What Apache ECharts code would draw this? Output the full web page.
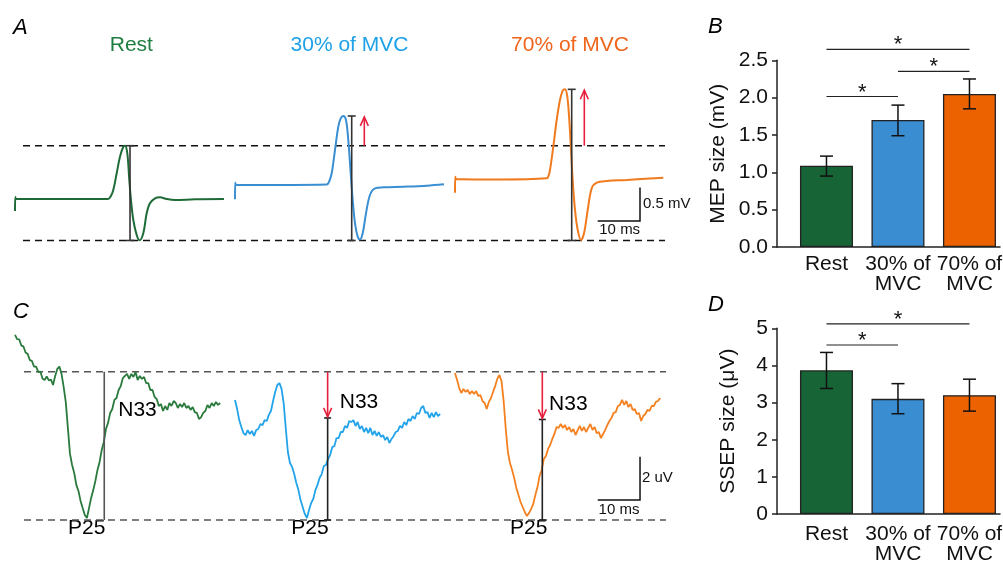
<!DOCTYPE html>
<html><head><meta charset="utf-8">
<script src="https://cdn.jsdelivr.net/npm/echarts@6/dist/echarts.min.js"></script>
<style>html,body{margin:0;padding:0;background:#fff}#c{width:1003px;height:563px}</style>
</head><body><div id="c"></div>
<script>
// ---------- DATA ----------
const conditions = ['Rest', '30% of MVC', '70% of MVC'];
const barLabels = ['Rest', '30% of\nMVC', '70% of\nMVC'];
// Panel B: MEP size (mV)
const mepSize = [1.087, 1.70, 2.05];
const mepErrLow = [0.95, 1.49, 1.85];
const mepErrHigh = [1.217, 1.90, 2.25];
const mepSig = [[0, 2, 2.647], [1, 2, 2.353], [0, 1, 2.015]];
// Panel D: SSEP size (uV)
const ssepSize = [3.87, 3.10, 3.20];
const ssepErrLow = [3.38, 2.70, 2.77];
const ssepErrHigh = [4.35, 3.51, 3.63];
const ssepSig = [[0, 2, 5.12], [0, 1, 4.55]];
// Panel A: MEP traces [ms, mV above common trough level]
const mepRest = [[0,0.44],[0.07,0.65],[0.24,0.62],[10.6,0.62],[22.0,0.62],[22.7,0.67],[23.24,0.756],[24.04,1.006],[24.82,1.254],[25.6,1.404],[26.0,1.419],[26.55,1.305],[27.02,0.906],[27.42,0.606],[27.97,0.307],[28.77,0.082],[29.43,0.003],[30.33,0.108],[31.13,0.407],[31.9,0.557],[33.1,0.632],[34.28,0.647],[35.86,0.621],[37.8,0.606],[42.55,0.617],[49.4,0.621]];
const mep30 = [[0,0.617],[0.07,0.865],[0.24,0.831],[10.64,0.831],[21.68,0.838],[22.22,0.876],[22.86,1.006],[23.64,1.355],[24.42,1.704],[24.99,1.829],[25.6,1.864],[26.24,1.804],[26.78,1.504],[27.35,1.006],[27.82,0.606],[28.37,0.257],[29.01,0.057],[29.55,0.015],[30.19,0.108],[30.97,0.407],[31.91,0.681],[33.1,0.781],[35.06,0.796],[39.79,0.805],[45.32,0.820],[49.41,0.841]];
const mep70 = [[0,0.716],[0.07,0.955],[0.24,0.921],[10.64,0.913],[21.68,0.931],[22.1,0.966],[22.46,1.055],[23.24,1.404],[24.04,1.804],[24.82,2.103],[25.46,2.243],[26.0,2.263],[26.55,2.153],[27.02,1.804],[27.42,1.355],[27.82,0.906],[28.37,0.457],[29.01,0.157],[29.79,0.007],[30.5,0.108],[31.37,0.457],[32.32,0.781],[33.5,0.865],[35.86,0.891],[40.59,0.906],[49.24,0.940]];
const mepMeasure = [[27.19, 0, 1.419], [27.59, 0, 1.864], [27.59, 0, 2.263]]; // [ms, low, high]
const mepArrows = [[30.57, 1.419, 1.85], [30.57, 1.419, 2.25]];             // 30%, 70%
const mepRef = [0, 1.419];
const scaleBarA = [10, 0.5]; // ms, mV
// Panel C: SSEP traces, sampled every 0.5 ms (uV above common P25 level)
const ssepDt = 0.5;
const ssepRest = [8.54,8.35,8.33,8.05,8.01,7.73,7.66,7.38,7.34,7.08,7.08,6.83,6.85,6.53,6.46,6.62,6.44,6.48,6.23,6.65,6.97,7.08,6.74,6.14,5.45,4.25,3.05,2.54,2.17,1.62,1.34,0.88,0.55,0.23,0.09,0.55,1.02,1.38,1.80,2.31,2.68,3.23,3.60,4.20,4.48,4.94,5.12,5.54,5.63,6.00,6.18,6.55,6.65,6.74,6.51,6.74,6.60,6.83,6.46,6.65,6.51,6.60,6.32,6.32,6.00,6.00,5.68,5.58,5.26,5.35,5.03,5.26,5.08,5.40,5.26,5.49,5.40,5.17,5.35,5.21,5.40,5.17,5.26,5.08,5.21,4.98,4.94,4.66,4.75,4.94,5.03,5.31,5.17,5.40,5.26,5.45,5.31,5.40];
const ssep30 = [5.54,5.12,4.61,4.29,4.01,3.92,4.15,3.97,4.11,3.88,4.15,4.20,4.43,4.38,4.61,4.57,4.85,5.03,5.49,5.91,6.23,6.32,6.05,5.40,4.25,3.14,2.63,2.45,2.12,1.71,1.38,0.92,0.60,0.28,0.09,0.46,0.78,0.97,1.38,1.62,1.94,2.12,2.49,2.54,2.81,3.00,3.37,3.41,3.78,3.78,4.06,4.06,4.34,4.25,4.57,4.52,4.61,4.34,4.52,4.20,4.34,4.06,4.25,4.01,4.25,3.92,4.11,3.88,4.06,3.83,3.92,3.69,3.83,3.55,3.74,3.88,4.06,4.11,4.34,4.25,4.52,4.38,4.66,4.57,4.80,4.66,4.94,4.89,5.17,5.26,4.94,4.98,4.71,4.94,4.75,4.98,4.80,4.89];
const ssep70 = [6.78,6.46,6.09,5.86,6.05,5.91,6.00,5.81,5.95,5.81,5.95,5.72,5.77,5.49,5.40,5.12,5.45,5.63,5.91,6.18,6.51,6.69,6.41,5.49,4.20,3.14,2.63,2.31,1.94,1.48,1.15,0.83,0.60,0.37,0.18,0.32,0.51,0.74,1.15,1.52,2.03,2.31,2.81,2.95,3.28,3.46,3.74,3.97,4.29,4.25,4.43,4.25,4.38,4.15,4.29,4.06,4.20,3.92,4.15,4.34,4.11,4.29,4.06,4.25,4.43,4.15,4.29,4.01,4.06,3.78,3.97,4.15,4.38,4.57,4.71,4.94,4.98,5.26,5.31,5.54,5.31,5.49,5.21,5.35,5.08,5.12,4.89,4.94,4.57,4.80,4.89,5.08,5.03,5.26,5.26,5.45,5.49,5.63];
const ssepMeasure = [[21.1, 0, 6.84], [21.9, 0, 4.71], [20.64, 0, 4.64]];
const ssepArrows = [[21.9, 6.84, 4.76], [20.64, 6.84, 4.69]];
const ssepRef = [0, 6.84];
const scaleBarC = [10, 2]; // ms, uV

// ---------- STYLE ----------
const F = "'Liberation Sans', Arial, Helvetica, sans-serif";
const mepColors = ['#1f6b37', '#3a8fd3', '#f07a1e'];
const ssepColors = ['#2a7a3d', '#22a3ea', '#f4801f'];
const barColors = ['#176437', '#3a8dd0', '#ec6100'];
const titleColors = ['#1f7d3f', '#1ea1e6', '#f0651c'];
const RED = '#e61f3d';

function measureItem(color, capW) {
  return function (params, api) {
    const t = api.value(0);
    const p0 = api.coord([t, api.value(1)]), p1 = api.coord([t, api.value(2)]);
    const st = { stroke: color, lineWidth: 1.6 };
    const ch = [{ type: 'line', shape: { x1: p0[0], y1: p0[1], x2: p1[0], y2: p1[1] }, style: st }];
    if (capW) {
      ch.push({ type: 'line', shape: { x1: p0[0] - capW / 2, y1: p0[1], x2: p0[0] + capW / 2, y2: p0[1] }, style: st });
      ch.push({ type: 'line', shape: { x1: p1[0] - capW / 2, y1: p1[1], x2: p1[0] + capW / 2, y2: p1[1] }, style: st });
    }
    return { type: 'group', children: ch };
  };
}
function arrowItem(params, api) {
  const t = api.value(0);
  const p0 = api.coord([t, api.value(1)]), p1 = api.coord([t, api.value(2)]);
  const dir = p1[1] < p0[1] ? -1 : 1;
  const hl = 9, hw = 4;
  const st = { stroke: RED, lineWidth: 1.6, fill: null };
  return { type: 'group', children: [
    { type: 'line', shape: { x1: p0[0], y1: p0[1], x2: p1[0], y2: p1[1] }, style: st },
    { type: 'polyline', shape: { points: [[p1[0] - hw, p1[1] - dir * hl], [p1[0], p1[1]], [p1[0] + hw, p1[1] - dir * hl]] }, style: st }
  ] };
}
function refItem(color) {
  return function (params, api) {
    const cs = params.coordSys;
    const y = api.coord([0, api.value(1)])[1];
    return { type: 'line', shape: { x1: cs.x, y1: y, x2: cs.x + cs.width, y2: y }, style: { stroke: color, lineWidth: 1.6, lineDash: [7, 5] } };
  };
}
function scaleItem(bar) {
  return function (params, api) {
    const t = api.value(0), v = api.value(1);
    const c = api.coord([t, v]), l = api.coord([t - bar[0], v]), u = api.coord([t, v + bar[1]]);
    return { type: 'polyline', shape: { points: [l, c, u] }, style: { stroke: '#111', lineWidth: 1.5, fill: null } };
  };
}
function errItem(params, api) {
  const x = api.value(0);
  const lo = api.coord([x, api.value(1)]), hi = api.coord([x, api.value(2)]);
  const w = 6.5, st = { stroke: '#111', lineWidth: 1.5 };
  return { type: 'group', children: [
    { type: 'line', shape: { x1: lo[0], y1: lo[1], x2: hi[0], y2: hi[1] }, style: st },
    { type: 'line', shape: { x1: lo[0] - w, y1: lo[1], x2: lo[0] + w, y2: lo[1] }, style: st },
    { type: 'line', shape: { x1: hi[0] - w, y1: hi[1], x2: hi[0] + w, y2: hi[1] }, style: st }
  ] };
}
function sigItem(params, api) {
  const a = api.coord([api.value(0), api.value(2)]), b = api.coord([api.value(1), api.value(2)]);
  return { type: 'group', children: [
    { type: 'line', shape: { x1: a[0], y1: a[1], x2: b[0], y2: b[1] }, style: { stroke: '#222', lineWidth: 1.2 } },
    { type: 'text', x: (a[0] + b[0]) / 2, y: a[1] - 4, style: { text: '*', font: '22px ' + F, fill: '#111', align: 'center', verticalAlign: 'middle' } }
  ] };
}

// ---------- LAYOUT ----------
const G = (left, top, width, height) => ({ left, top, width, height, containLabel: false, outerBoundsMode: 'none' });
const grids = [
  G(15, 40.1, 211.5, 200.4), G(235, 40.1, 211.5, 200.4), G(455, 40.1, 211.5, 200.4), G(23, 40.1, 642, 200.4),
  G(15, 303.3, 211.5, 216.7), G(235, 303.3, 211.5, 216.7), G(455, 303.3, 211.5, 216.7), G(24, 303.3, 642, 216.7),
  G(777, 60.3, 223, 186.7), G(777, 328.3, 223, 185.7)
];
const hx = (g, max) => ({ gridIndex: g, type: 'value', min: 0, max, show: false });
const hy = (g, max) => ({ gridIndex: g, type: 'value', min: 0, max, show: false });
const barX = (g, margin) => ({
  gridIndex: g, type: 'value', min: -0.692, max: 2.427,
  axisLine: { show: true, onZero: false, lineStyle: { color: '#222', width: 1.5 } },
  axisTick: { show: false }, splitLine: { show: false },
  axisLabel: { customValues: [0, 1, 2], formatter: v => barLabels[Math.round(v)], fontSize: 21, lineHeight: 20, fontFamily: F, color: '#111', margin }
});
const barY = (g, max, interval, name, gap, fmt) => ({
  gridIndex: g, type: 'value', min: 0, max, interval,
  name, nameLocation: 'middle', nameGap: gap, nameTextStyle: { fontSize: 21, fontFamily: F, color: '#111' },
  axisLine: { show: true, onZero: false, lineStyle: { color: '#222', width: 1.5 } },
  axisTick: { show: true, inside: false, length: 5, lineStyle: { color: '#222', width: 1.5 } },
  splitLine: { show: false },
  axisLabel: { fontSize: 21, fontFamily: F, color: '#111', margin: 9, formatter: fmt }
});
const xAxes = [hx(0, 50), hx(1, 50), hx(2, 50), hx(3, 151.77), hx(4, 50), hx(5, 50), hx(6, 50), hx(7, 151.77), barX(8, 7), barX(9, 10.5)];
const yAxes = [hy(0, 3), hy(1, 3), hy(2, 3), hy(3, 3), hy(4, 10), hy(5, 10), hy(6, 10), hy(7, 10),
  barY(8, 2.5, 0.5, 'MEP size (mV)', 48, v => v.toFixed(1)), barY(9, 5, 1, 'SSEP size (μV)', 38, v => String(v))];

const series = [];
const base = { silent: true, animation: false };
[mepRest, mep30, mep70].forEach((d, i) => {
  series.push({ ...base, type: 'line', xAxisIndex: i, yAxisIndex: i, data: d, showSymbol: false, smooth: 0.35,
    lineStyle: { color: mepColors[i], width: 2 }, z: 2 });
  series.push({ ...base, type: 'custom', xAxisIndex: i, yAxisIndex: i, data: [mepMeasure[i]], renderItem: measureItem('#333', 8), z: 3 });
});
mepArrows.forEach((a, k) => series.push({ ...base, type: 'custom', xAxisIndex: k + 1, yAxisIndex: k + 1, data: [a], renderItem: arrowItem, z: 3 }));
series.push({ ...base, type: 'custom', xAxisIndex: 3, yAxisIndex: 3, data: mepRef.map(v => [0, v]), renderItem: refItem('#111'), z: 1 });
series.push({ ...base, type: 'custom', xAxisIndex: 3, yAxisIndex: 3, data: [[145.86, 0.292]], renderItem: scaleItem(scaleBarA), z: 1 });

[ssepRest, ssep30, ssep70].forEach((d, i) => {
  const g = 4 + i;
  series.push({ ...base, type: 'line', xAxisIndex: g, yAxisIndex: g, data: d.map((v, k) => [k * ssepDt, v]), showSymbol: false,
    lineStyle: { color: ssepColors[i], width: 1.8 }, z: 2 });
  series.push({ ...base, type: 'custom', xAxisIndex: g, yAxisIndex: g, data: [ssepMeasure[i]],
    renderItem: measureItem(i === 0 ? '#555' : '#222', i === 0 ? 0 : 7), z: 3 });
});
ssepArrows.forEach((a, k) => series.push({ ...base, type: 'custom', xAxisIndex: 5 + k, yAxisIndex: 5 + k, data: [a], renderItem: arrowItem, z: 3 }));
series.push({ ...base, type: 'custom', xAxisIndex: 7, yAxisIndex: 7, data: ssepRef.map(v => [0, v]), renderItem: refItem('#555'), z: 1 });
series.push({ ...base, type: 'custom', xAxisIndex: 7, yAxisIndex: 7, data: [[145.63, 0.923]], renderItem: scaleItem(scaleBarC), z: 1 });

function barSeries(g, vals, lo, hi, sig) {
  series.push({ ...base, type: 'bar', xAxisIndex: g, yAxisIndex: g, barWidth: 53,
    data: vals.map((v, i) => ({ value: [i, v], itemStyle: { color: barColors[i], borderColor: '#222', borderWidth: 1.3 } })), z: 2 });
  series.push({ ...base, type: 'custom', xAxisIndex: g, yAxisIndex: g, data: vals.map((v, i) => [i, lo[i], hi[i]]), renderItem: errItem, z: 3 });
  series.push({ ...base, type: 'custom', xAxisIndex: g, yAxisIndex: g, data: sig, renderItem: sigItem, z: 3 });
}
barSeries(8, mepSize, mepErrLow, mepErrHigh, mepSig);
barSeries(9, ssepSize, ssepErrLow, ssepErrHigh, ssepSig);

const txt = (text, x, y, size, color, align) => ({ type: 'text', x, y, silent: true,
  style: { text, font: size + 'px ' + F, fill: color, align: align || 'center', verticalAlign: 'middle' } });
const italic = (t, x, y) => ({ type: 'text', x, y, silent: true, style: { text: t, font: 'italic 22px ' + F, fill: '#000', align: 'left', verticalAlign: 'middle' } });

const graphics = [
  italic('A', 13, 28), italic('B', 708, 27), italic('C', 13, 312), italic('D', 708, 305),
  txt(conditions[0], 131.3, 45, 21, titleColors[0]),
  txt(conditions[1], 349.5, 45, 21, titleColors[1]),
  txt(conditions[2], 570, 45, 21, titleColors[2]),
  txt('0.5 mV', 643, 204, 15, '#111', 'left'),
  txt('10 ms', 619.7, 230, 15, '#111'),
  txt('2 uV', 642, 478, 15, '#111', 'left'),
  txt('10 ms', 619, 510, 15, '#111'),
  txt('N33', 137.5, 410, 21, '#000'), txt('N33', 359, 402.5, 21, '#000'), txt('N33', 568.3, 404, 21, '#000'),
  txt('P25', 86.7, 528.3, 21, '#000'), txt('P25', 310, 528.3, 21, '#000'), txt('P25', 528.7, 528.5, 21, '#000')
];

const chart = echarts.init(document.getElementById('c'), null, { renderer: 'canvas' });
chart.setOption({
  animation: false, backgroundColor: '#fff',
  textStyle: { fontFamily: F },
  grid: grids, xAxis: xAxes, yAxis: yAxes, series,
  graphic: { elements: graphics }
});
</script></body></html>
